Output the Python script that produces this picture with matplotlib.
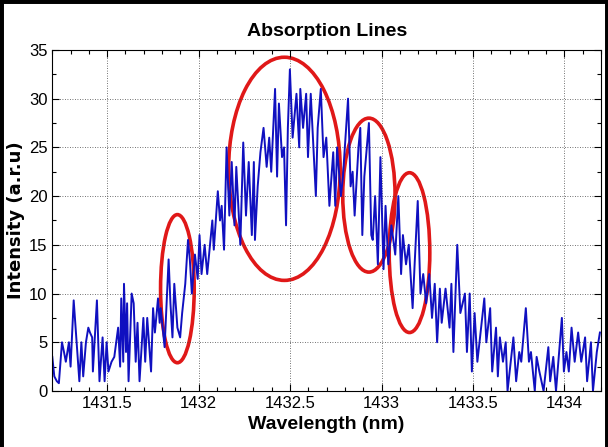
import matplotlib.pyplot as plt
from matplotlib.patches import Ellipse
from matplotlib.ticker import MultipleLocator
from matplotlib.lines import Line2D

# wavelength (nm) / intensity
wavelength = [
    1431.200, 1431.211, 1431.225, 1431.236, 1431.253, 1431.264, 1431.274, 1431.291, 1431.300,
    1431.317, 1431.348, 1431.359, 1431.369, 1431.384, 1431.397,
    1431.406, 1431.418, 1431.422, 1431.444, 1431.458, 1431.475, 1431.486, 1431.497,
    1431.507, 1431.524, 1431.539, 1431.560, 1431.571, 1431.577, 1431.588, 1431.592, 1431.603,
    1431.609, 1431.617, 1431.634, 1431.645, 1431.656, 1431.666, 1431.677, 1431.698,
    1431.708, 1431.719, 1431.740, 1431.751, 1431.761, 1431.778, 1431.787, 1431.793,
    1431.814, 1431.836, 1431.846, 1431.857, 1431.867, 1431.884, 1431.899,
    1431.910, 1431.927, 1431.942, 1431.952, 1431.963, 1431.980, 1431.995,
    1432.005, 1432.016, 1432.033, 1432.047, 1432.075, 1432.083, 1432.105,
    1432.117, 1432.126, 1432.139, 1432.153, 1432.168, 1432.181, 1432.196,
    1432.206, 1432.228, 1432.244, 1432.259, 1432.274, 1432.291, 1432.302,
    1432.308, 1432.323, 1432.338, 1432.355, 1432.372, 1432.386, 1432.397,
    1432.418, 1432.429, 1432.439, 1432.456, 1432.467, 1432.478, 1432.488, 1432.499,
    1432.514, 1432.535, 1432.550, 1432.556, 1432.571, 1432.588, 1432.598,
    1432.613, 1432.641, 1432.651, 1432.668, 1432.683, 1432.698,
    1432.715, 1432.736, 1432.747, 1432.757, 1432.778, 1432.789,
    1432.817, 1432.831, 1432.842, 1432.853, 1432.874, 1432.884, 1432.895,
    1432.906, 1432.931, 1432.944, 1432.952, 1432.965, 1432.980, 1432.994,
    1433.011, 1433.022, 1433.037, 1433.054, 1433.075, 1433.092,
    1433.107, 1433.117, 1433.134, 1433.149, 1433.170, 1433.181, 1433.198,
    1433.213, 1433.228, 1433.244, 1433.261, 1433.276, 1433.291,
    1433.304, 1433.319, 1433.329, 1433.350, 1433.372, 1433.382, 1433.393,
    1433.414, 1433.431, 1433.456, 1433.467, 1433.482, 1433.494,
    1433.509, 1433.524, 1433.562, 1433.573, 1433.594,
    1433.605, 1433.626, 1433.636, 1433.647, 1433.664, 1433.679, 1433.689,
    1433.721, 1433.736, 1433.753, 1433.764, 1433.789,
    1433.806, 1433.817, 1433.838, 1433.848, 1433.863, 1433.886,
    1433.912, 1433.922, 1433.939, 1433.954, 1433.986, 1433.997,
    1434.011, 1434.024, 1434.039, 1434.056, 1434.075, 1434.092,
    1434.113, 1434.124, 1434.145, 1434.156, 1434.177, 1434.194,
]
intensity = [
    3.5, 1.5, 1.0, 0.8, 5.0, 4.0, 3.0, 5.0, 2.5,
    9.3, 1.0, 5.0, 1.5, 5.0, 6.5,
    6.0, 5.5, 2.0, 9.3, 1.0, 5.5, 1.0, 5.0,
    2.0, 3.0, 3.5, 6.5, 2.5, 9.5, 3.0, 11.0, 4.0,
    9.0, 1.0, 10.0, 9.0, 3.0, 7.0, 1.0, 7.5,
    3.0, 7.5, 2.0, 8.5, 6.0, 9.5, 7.0, 8.5,
    4.5, 13.5, 9.0, 5.5, 11.0, 6.5, 5.5,
    8.0, 11.0, 15.5, 13.5, 10.0, 14.0, 11.5,
    16.0, 12.0, 15.0, 12.0, 17.5, 14.5, 20.5,
    17.5, 19.0, 14.5, 25.0, 18.0, 23.5, 17.0,
    23.0, 15.0, 25.5, 18.0, 23.5, 16.0, 23.5,
    15.5, 21.0, 24.5, 27.0, 23.0, 26.0, 22.5,
    31.0, 22.0, 29.5, 24.0, 25.0, 17.0, 27.0, 33.0,
    26.0, 30.5, 25.0, 31.0, 27.0, 30.5, 24.0,
    30.5, 20.0, 27.0, 31.0, 24.0, 26.0,
    19.0, 24.5, 19.0, 25.0, 20.0, 22.0,
    30.0, 21.0, 22.5, 18.0, 25.0, 27.0, 16.0,
    22.0, 27.5, 16.0, 15.5, 20.0, 13.0, 24.0,
    12.5, 19.0, 13.0, 17.0, 14.0, 20.0,
    12.0, 16.0, 13.0, 15.0, 8.5, 13.0, 19.5,
    10.0, 12.0, 9.0, 12.0, 7.5, 11.0,
    5.0, 10.5, 7.0, 10.5, 6.5, 11.0, 4.0,
    15.0, 8.0, 10.0, 4.0, 10.0, 2.0,
    8.0, 3.0, 9.5, 5.0, 8.5,
    2.0, 6.5, 1.5, 5.5, 3.0, 5.0, 0.0,
    5.5, 1.0, 4.0, 3.0, 8.5,
    3.0, 4.0, 0.0, 3.5, 2.0, 0.0,
    4.5, 1.0, 3.5, 0.0, 7.5, 2.0,
    4.0, 2.0, 6.5, 3.0, 6.0, 3.0,
    5.5, 1.0, 5.0, 0.0, 4.0, 6.0,
]

# circled regions: centre wavelength, centre intensity, width (nm), height
circle_x = [1431.884, 1432.469, 1432.931, 1433.153]
circle_y = [10.5, 22.8, 20.1, 14.2]
circle_w = [0.184, 0.61, 0.286, 0.222]
circle_h = [15.2, 22.9, 15.8, 16.4]

fig = plt.figure(figsize=(6.08, 4.47), dpi=100)
ax = fig.add_axes([0.086, 0.1253, 0.9025, 0.763])

ax.plot(wavelength, intensity, color='#1010c0', lw=1.4)

for cx, cy, w, h in zip(circle_x, circle_y, circle_w, circle_h):
    ax.add_patch(Ellipse((cx, cy), w, h, fill=False, edgecolor='#e01818', lw=2.6))

ax.set_xlim(1431.2, 1434.2)
ax.set_ylim(0, 35)
ax.xaxis.set_minor_locator(MultipleLocator(0.1))
ax.yaxis.set_major_locator(MultipleLocator(5))
ax.yaxis.set_minor_locator(MultipleLocator(2.5))
ax.set_xticks([1431.5, 1432, 1432.5, 1433, 1433.5, 1434])
ax.set_xticklabels(['1431.5', '1432', '1432.5', '1433', '1433.5', '1434'])
ax.tick_params(which='both', direction='in', top=True, right=True, width=0.8)
ax.tick_params(which='major', length=5, labelsize=12)
ax.tick_params(which='minor', length=3)
for lab in ax.get_xticklabels() + ax.get_yticklabels():
    lab.set_family('Liberation Sans')
ax.grid(True, which='major', color='#444444', linestyle=(0, (1, 2)), lw=0.6)

ax.set_title('Absorption Lines', family='Liberation Sans', fontweight='bold', fontsize=14, pad=10)
ax.set_xlabel('Wavelength (nm)', family='Liberation Sans', fontweight='bold', fontsize=14, labelpad=4)
ax.set_ylabel('Intensity (a.r.u)', family='DejaVu Sans', fontweight='bold', fontsize=13, labelpad=3)

# black frame round the picture
for xs, ys in [([0, 0], [0, 1]), ([0, 1], [1, 1]), ([1, 1], [0, 1])]:
    fig.add_artist(Line2D(xs, ys, transform=fig.transFigure, color='black', lw=5))

fig.savefig('out.png', dpi=100)
